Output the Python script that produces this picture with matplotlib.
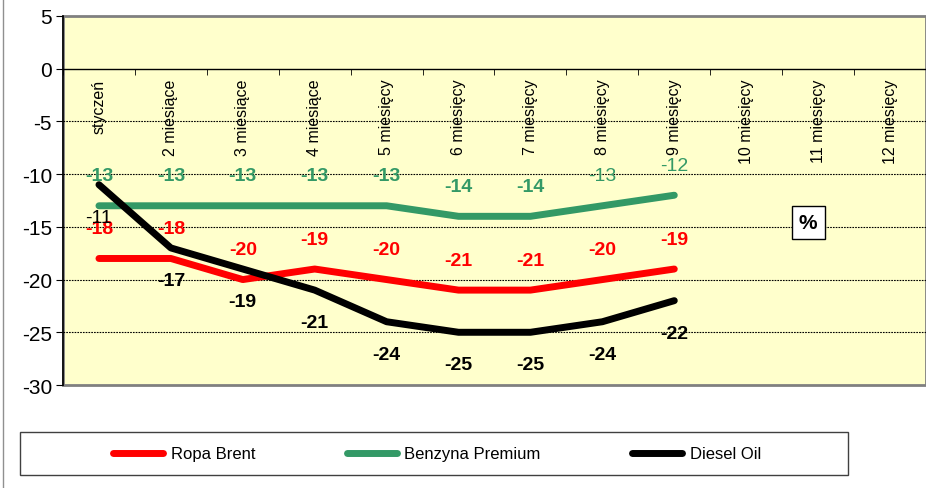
import matplotlib.pyplot as plt
from matplotlib.patches import Rectangle
from matplotlib.lines import Line2D

plt.rcParams['font.family'] = ['Liberation Sans', 'DejaVu Sans']

# categories (months)
months = ['styczeń', '2 miesiące', '3 miesiące', '4 miesiące', '5 miesięcy', '6 miesięcy',
          '7 miesięcy', '8 miesięcy', '9 miesięcy', '10 miesięcy', '11 miesięcy', '12 miesięcy']

# series values (%), only first 9 months available
ropa_brent = [-18, -18, -20, -19, -20, -21, -21, -20, -19]
benzyna = [-13, -13, -13, -13, -13, -14, -14, -13, -12]
diesel = [-11, -17, -19, -21, -24, -25, -25, -24, -22]

# which labels are drawn in bold
benzyna_bold = [True, True, True, True, True, True, True, False, False]
diesel_bold = [False, True, True, True, True, True, True, True, True]

yticks = [5, 0, -5, -10, -15, -20, -25, -30]

RED = '#ff0000'
GREEN = '#339966'
BLACK = '#000000'

fig = plt.figure(figsize=(9.26, 4.89), dpi=100)
ax = fig.add_axes([63 / 926, 1 - 386 / 489, 1 - 63 / 926, (386 - 17) / 489])
ax.set_facecolor('#ffffcc')

x = list(range(len(ropa_brent)))
lw = 5
ax.plot(x, ropa_brent, color=RED, lw=lw, solid_capstyle='round', solid_joinstyle='round', zorder=3)
ax.plot(x, benzyna, color=GREEN, lw=lw, solid_capstyle='round', solid_joinstyle='round', zorder=3)
ax.plot(x, diesel, color=BLACK, lw=lw, solid_capstyle='round', solid_joinstyle='round', zorder=3)

# data labels
for i, v in enumerate(ropa_brent):
    ax.annotate(str(v), (i, v), xytext=(0, 21.5), textcoords='offset points',
                ha='center', va='center', color=RED, fontsize=14, fontweight='bold', zorder=4)
for i, v in enumerate(benzyna):
    ax.annotate(str(v), (i, v), xytext=(0, 21.5), textcoords='offset points',
                ha='center', va='center', color=GREEN, fontsize=14,
                fontweight='bold' if benzyna_bold[i] else 'normal', zorder=4)
for i, v in enumerate(diesel):
    ax.annotate(str(v), (i, v), xytext=(0, -23.5), textcoords='offset points',
                ha='center', va='center', color=BLACK, fontsize=14,
                fontweight='bold' if diesel_bold[i] else 'normal', zorder=4)

ax.set_xlim(-0.5, len(months) - 0.5)
ax.set_ylim(-30, 5)

# grid lines
for g in [-5, -10, -15, -20, -25]:
    ax.axhline(g, color='black', lw=0.8, ls=(0, (1.5, 1)), zorder=1)

# x axis at zero
ax.spines['bottom'].set_position(('data', 0))
ax.spines['bottom'].set_color('black')
ax.spines['bottom'].set_linewidth(1)
ax.spines['top'].set_visible(False)
ax.spines['right'].set_visible(False)
ax.spines['left'].set_color('black')
ax.spines['left'].set_linewidth(1.2)
ax.spines['left'].set_zorder(5)

ax.set_xticks(range(len(months)))
ax.set_xticklabels(months, rotation=90, fontsize=11.5)
ax.tick_params(axis='x', which='major', length=0, pad=7)
ax.set_xticks([i - 0.5 for i in range(len(months) + 1)], minor=True)
ax.tick_params(axis='x', which='minor', length=4, direction='out', color='black')

ax.set_yticks(yticks)
ax.set_yticklabels([str(t) for t in yticks], fontsize=15)
ax.tick_params(axis='y', length=5, direction='out', pad=3)

# gray frame top/bottom
ax.add_patch(Rectangle((0, 0), 1, 1, transform=ax.transAxes, fill=False,
                       edgecolor='#808080', lw=2, clip_on=False, zorder=0.5))

# percent box
ax.text(9.86, -14.6, '%', ha='center', va='center', fontsize=15, fontweight='bold',
        bbox=dict(boxstyle='square,pad=0.35', fc='white', ec='black', lw=1), zorder=6)

# outer left border
fig.add_artist(Line2D([2.5 / 926, 2.5 / 926], [0, 1], color='#909090', lw=1))

# legend box
fig.add_artist(Rectangle((20 / 926, 1 - 476 / 489), 828 / 926, 43 / 489, fill=False,
                         edgecolor='#404040', lw=1, transform=fig.transFigure))
handles = [Line2D([], [], color=RED, lw=lw, solid_capstyle='round'),
           Line2D([], [], color=GREEN, lw=lw, solid_capstyle='round'),
           Line2D([], [], color=BLACK, lw=lw, solid_capstyle='round')]
fig.legend(handles, ['Ropa Brent', 'Benzyna Premium', 'Diesel Oil'], loc='center',
           bbox_to_anchor=(437 / 926, 1 - 455 / 489), ncol=3, frameon=False, fontsize=12,
           handlelength=3.0, handletextpad=0.45, columnspacing=5.5)

fig.savefig('out.png', dpi=100)
